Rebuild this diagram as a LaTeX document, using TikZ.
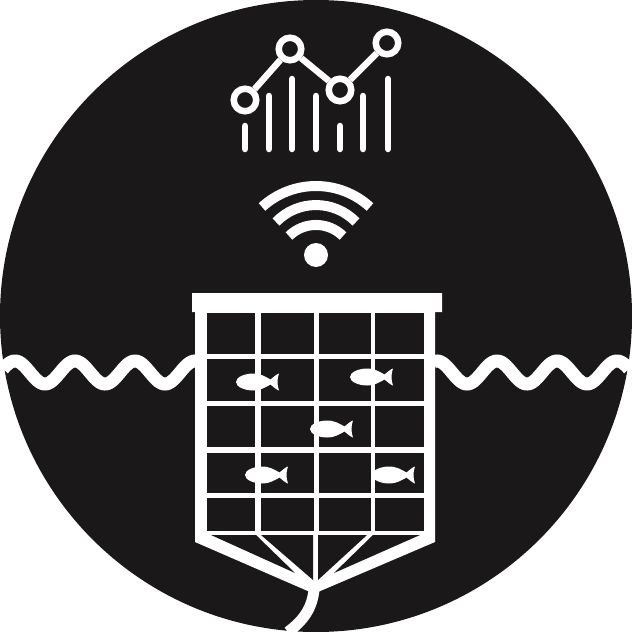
\documentclass[tikz,border=0pt]{standalone}
\usepackage{tikz}
\definecolor{disc}{HTML}{1A1819}
\tikzset{
  bar/.style={line width=6.5pt, white, line cap=round},
  ring/.style={circle, draw=white, fill=disc, line width=6.5pt, minimum size=22.5pt, inner sep=0pt},
  link/.style={line width=6.5pt, white},
  signal/.style={line width=10pt, white},
  swell/.style={line width=13pt, white},
  mesh/.style={fill=disc},
  fish/.pic={\fill[white] (0,0) .. controls (0,-5) and (9,-8.5) .. (17,-8.5)
      .. controls (25,-8.5) and (30,-5) .. (34.5,-2.5)
      .. controls (37,-4.5) and (40,-7.5) .. (43,-8.5) .. controls (41,-3) and (41,3) .. (43,8.5)
      .. controls (40,7.5) and (37,4.5) .. (34.5,2.5)
      .. controls (30,5) and (25,8.5) .. (17,8.5)
      .. controls (9,8.5) and (0,5) .. (0,0) -- cycle;}
}
\begin{document}
\begin{tikzpicture}[x=1pt, y=-1pt]
  \useasboundingbox (0,0) rectangle (632,632);
  \fill[disc] (316,316) circle (316pt);

  % chart
  \foreach \px/\ptop in {245/126, 269/96, 292/79, 316/96, 340/126, 363/96, 388/79}
    \draw[bar] (\px,\ptop) -- (\px,149);
  \node[ring] (p1) at (245,100) {};
  \node[ring] (p2) at (290,49) {};
  \node[ring] (p3) at (340,90) {};
  \node[ring] (p4) at (387,43) {};
  \draw[link] (p1) -- (p2);
  \draw[link] (p2) -- (p3);
  \draw[link] (p3) -- (p4);

  % wifi
  \draw[signal] (262,207) .. controls (292.6,179) and (339.4,179) .. (370,207);
  \draw[signal] (276,222) .. controls (297.9,199.4) and (334.1,199.4) .. (356,222);
  \draw[signal] (289,236) .. controls (304,221.3) and (328,221.3) .. (343,236);
  \fill[white] (316,255) circle (12pt);

  % water
  \draw[swell] plot[domain=3:198, samples=120] (\x,{372.5-11.5*cos(6*(\x-15))});
  \draw[swell] plot[domain=434:629, samples=120] (\x,{372.5-11.5*cos(6*(617-\x))});

  % cage
  \fill[white] (192,293) -- (442,293) -- (442,312) -- (435,312) -- (435,542) -- (318,592)
    -- (310,592) -- (195,542) -- (195,312) -- (192,312) -- cycle;
  \foreach \xa/\xb in {207/255, 260.5/314, 318.5/370.5, 375/424}
    \foreach \ya/\yb in {313/354, 358.5/400.5, 405.5/446.5, 452.5/493, 497.5/531}
      \fill[mesh] (\xa,\ya) rectangle (\xb,\yb);
  \fill[mesh] (211,535) -- (256,535) -- (295,573) -- cycle;
  \fill[mesh] (261,535) -- (313,535) -- (313,580) -- cycle;
  \fill[mesh] (318,535) -- (367,535) -- (318,580) -- cycle;
  \fill[mesh] (373,535) -- (420,535) -- (334,573) -- cycle;
  \draw[line width=11pt, white] (314,590) .. controls (312,608) and (304,620) .. (288,632);

  % fish
  \foreach \fx/\fy in {236/382, 350/377, 310/429, 245/475, 372/475}
    \pic at (\fx,\fy) {fish};
\end{tikzpicture}
\end{document}
